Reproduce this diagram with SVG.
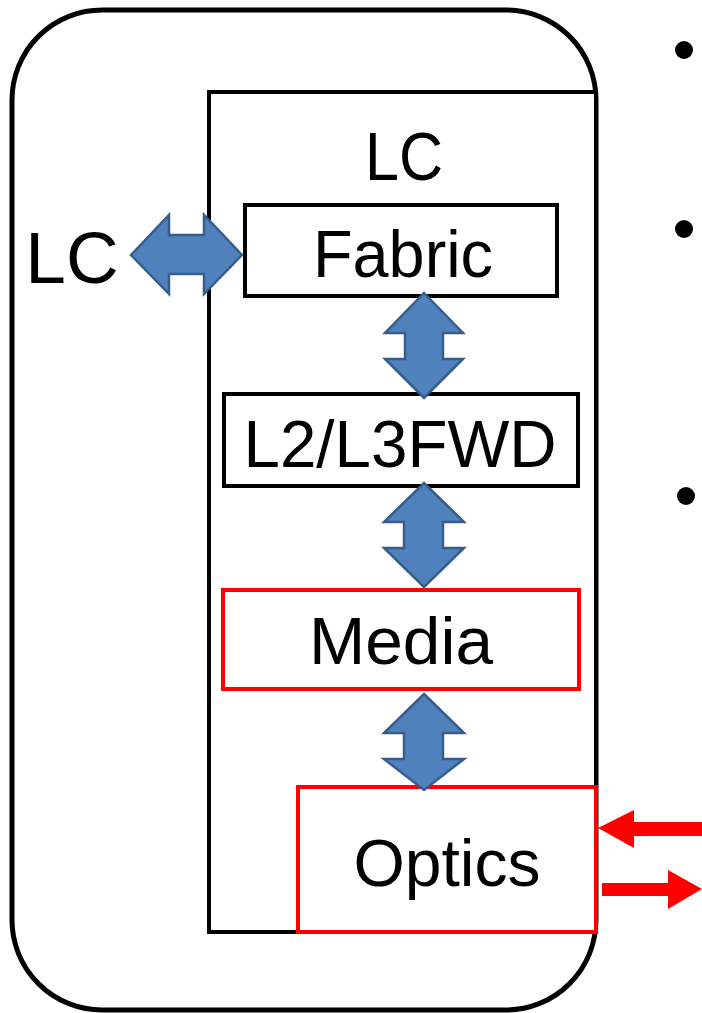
<svg xmlns="http://www.w3.org/2000/svg" width="702" height="1013" viewBox="0 0 702 1013">
<style>
.box{fill:#fff;stroke:#000;stroke-width:4}
.red{fill:#fff;stroke:#FF0000;stroke-width:4}
.blue{fill:#4F81BD;stroke:#385D8A;stroke-width:2.5;stroke-linejoin:miter}
.t{font-family:"Liberation Sans",Arial,sans-serif;font-size:66px;fill:#000;text-anchor:middle}
.ra{fill:#FF0000}
</style>
<rect width="702" height="1013" fill="#fff"/>
<g id="outer">
<rect x="12" y="10" width="584" height="1000" rx="90" ry="90" fill="#fff" stroke="#000" stroke-width="5"/>
<text class="t" x="72" y="283" style="font-size:73px">LC</text>
</g>
<g id="inner">
<rect class="box" x="209" y="92" width="387" height="840"/>
<text class="t" x="404" y="180" style="font-size:68px" textLength="78" lengthAdjust="spacingAndGlyphs">LC</text>
</g>
<g id="fabric">
<rect class="box" x="245" y="205" width="312" height="91"/>
<text class="t" x="403" y="277" textLength="180" lengthAdjust="spacingAndGlyphs">Fabric</text>
</g>
<g id="fwd">
<rect class="box" x="224" y="394" width="354" height="92"/>
<text class="t" x="400" y="467" textLength="313" lengthAdjust="spacingAndGlyphs">L2/L3FWD</text>
</g>
<g id="media">
<rect class="red" x="223" y="590" width="356" height="99"/>
<text class="t" x="401" y="664" textLength="184" lengthAdjust="spacingAndGlyphs">Media</text>
</g>
<g id="optics">
<rect class="red" x="298" y="787" width="298" height="145"/>
<text class="t" x="447" y="886" textLength="187" lengthAdjust="spacingAndGlyphs">Optics</text>
</g>
<g id="bullets">
<circle cx="684" cy="50" r="9"/>
<circle cx="684" cy="229" r="9"/>
<circle cx="686" cy="496" r="9"/>
</g>
<g id="connectors">
<path class="blue" d="M131,255 L169,215 L169,235 L204,235 L204,215 L242,255 L204,294 L204,274 L169,274 L169,294 Z"/>
<path class="blue" d="M424,293 L463,333 L443,333 L443,359 L463,359 L424,398 L385,359 L405,359 L405,333 L385,333 Z"/>
<path class="blue" d="M424,483 L464,522 L443,522 L443,548 L464,548 L424,587 L384,548 L404,548 L404,522 L384,522 Z"/>
<path class="blue" d="M424,694 L464,733 L443,733 L443,759 L464,759 L424,790 L384,759 L404,759 L404,733 L384,733 Z"/>
<path class="ra" d="M598,828 L634,810 L634,822 L702,822 L702,836 L634,836 L634,848 Z"/>
<path class="ra" d="M602,883 L668,883 L668,870 L702,889 L668,909 L668,896 L602,896 Z"/>
</g>
</svg>
